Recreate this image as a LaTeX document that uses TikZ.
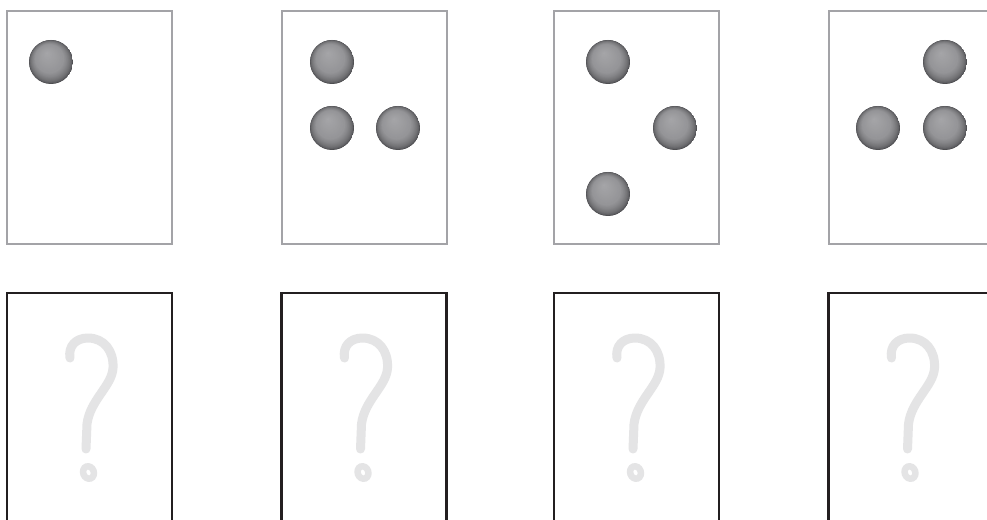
\documentclass[tikz,border=0pt]{standalone}
\definecolor{cardgray}{HTML}{A3A3A7}
\definecolor{cardblack}{HTML}{231F20}
\definecolor{qgray}{HTML}{E4E4E5}
\definecolor{sphDark}{HTML}{48484B}
\definecolor{sphMid}{HTML}{959598}
\definecolor{sphLight}{HTML}{A6A6A9}
\tikzset{
  topcard/.style={draw=cardgray, line width=2bp, fill=white, minimum width=165bp, minimum height=233bp, inner sep=0pt, outer sep=0pt},
  botcard/.style={draw=cardblack, line width=2.2bp, fill=white, minimum width=165bp, minimum height=233bp, inner sep=0pt, outer sep=0pt},
  sphere/.style={circle, minimum size=44bp, inner sep=0pt, outer sep=0pt, path picture={
    \begin{scope}[shift={(path picture bounding box.center)}]
      \foreach \i in {0,...,14}{
        \pgfmathsetmacro\f{\i/40}
        \pgfmathsetmacro\rr{22*(1-\f)+0.2}
        \pgfmathtruncatemacro\pp{100*sqrt(\i/14)}
        \fill[sphMid!\pp!sphDark] (-4*\f,-9*\f) circle (\rr);
      }
      \foreach \i in {15,...,40}{
        \pgfmathsetmacro\f{\i/40}
        \pgfmathsetmacro\rr{22*(1-\f)+0.2}
        \pgfmathtruncatemacro\pp{100*(\i-14)/26}
        \fill[sphLight!\pp!sphMid] (-4*\f,-9*\f) circle (\rr);
      }
    \end{scope}}},
  qmark/.style={draw=qgray, line width=9bp, line cap=round, line join=round},
  qdot/.style={draw=qgray, line width=6.5bp}
}
\begin{document}
\begin{tikzpicture}[x=1bp, y=-1bp]
\clip (0,0) rectangle (987,520);
\fill[white] (0,0) rectangle (987,520);
% top cards
\node[topcard] (t1) at (89.5,127.5) {};
\node[topcard] (t2) at (364,127.5) {};
\node[topcard] (t3) at (636.5,127.5) {};
\node[topcard] (t4) at (911,127.5) {};
% bottom cards
\node[botcard] (b1) at (89.5,409.5) {};
\node[botcard] (b2) at (364,409.5) {};
\node[botcard] (b3) at (636.5,409.5) {};
\node[botcard] (b4) at (911,409.5) {};
% spheres
\node[sphere] (s11) at (51,62) {};
\node[sphere] (s21) at (332,62) {};
\node[sphere] (s22) at (332,128) {};
\node[sphere] (s23) at (398,128) {};
\node[sphere] (s31) at (608,62) {};
\node[sphere] (s32) at (675,128) {};
\node[sphere] (s33) at (608,194) {};
\node[sphere] (s41) at (945,62) {};
\node[sphere] (s42) at (878,128) {};
\node[sphere] (s43) at (945,128) {};
% question marks
\foreach \dx in {0,274.5,547,821.5} {
  \begin{scope}[xshift=\dx bp]
    \draw[qmark] (70,358) .. controls (68,346) and (76,338) .. (88,338)
      .. controls (104,338) and (114,351) .. (113,368)
      .. controls (112,386) and (90,400) .. (87,424) -- (86,449);
    \draw[qdot, rotate around={20:(88.5,472.5)}] (88.5,472.5) ellipse (5.3 and 6.3);
  \end{scope}
}
\end{tikzpicture}
\end{document}
